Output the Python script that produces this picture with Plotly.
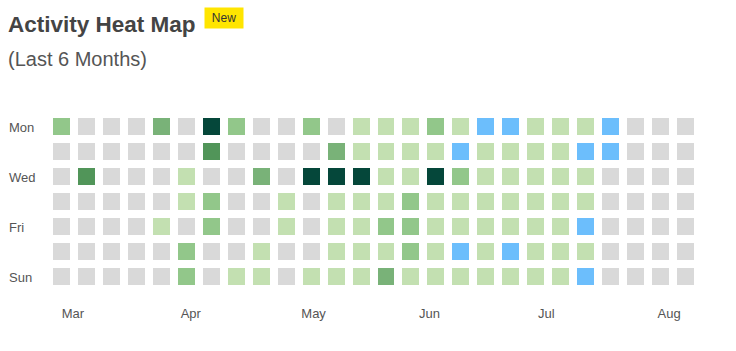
import plotly.graph_objects as go

days = ["Mon", "Tue", "Wed", "Thu", "Fri", "Sat", "Sun"]
day_labels = ["Mon", "", "Wed", "", "Fri", "", "Sun"]
weeks = list(range(26))
months = ["Mar", "Apr", "May", "Jun", "Jul", "Aug"]
month_pos = [0.46, 5.18, 10.1, 14.74, 19.42, 24.34]

# activity level per day (0 none .. 5 high, 6 = highlighted)
mon = [2,0,0,0,3,0,5,2,0,0,2,0,1,1,1,2,1,6,6,1,1,1,6,0,0,0]
tue = [0,0,0,0,0,0,4,0,0,0,0,3,1,1,1,1,6,1,1,1,1,6,6,0,0,0]
wed = [0,4,0,0,0,1,0,0,3,0,5,5,5,1,1,5,2,1,1,1,1,1,0,0,0,0]
thu = [0,0,0,0,0,1,2,0,0,1,0,1,1,1,2,1,1,1,1,1,1,1,0,0,0,0]
fri = [0,0,0,0,1,0,2,0,0,1,0,1,1,2,2,1,1,1,1,1,1,6,0,0,0,0]
sat = [0,0,0,0,0,2,0,0,1,0,0,1,1,1,2,1,6,1,6,1,1,1,0,0,0,0]
sun = [0,0,0,0,0,2,0,1,1,0,1,1,1,3,1,1,1,1,1,1,1,6,0,0,0,0]
levels = [mon, tue, wed, thu, fri, sat, sun]

level_colors = ["#D9D9D9", "#C3E0B1", "#92C78A", "#79B278", "#519559", "#05473A", "#6CBEFC"]

n = len(level_colors)
colorscale = []
for i, c in enumerate(level_colors):
    colorscale.append([i / n, c])
    colorscale.append([(i + 1) / n, c])

fig = go.Figure(go.Heatmap(
    z=levels, x=weeks, y=list(range(7)),
    colorscale=colorscale, zmin=-0.5, zmax=n - 0.5,
    xgap=8, ygap=8, showscale=False,
    hovertemplate="Week %{x}, %{customdata}: level %{z}<extra></extra>",
    customdata=[[d] * 26 for d in days],
))

W, H = 736, 351
L, R, T, B = 48.5, 37.5, 114, 62
pw = W - L - R

def px_to_paper_x(px):
    return (px - L) / pw

annotations = []
for i, lab in enumerate(day_labels):
    if lab:
        annotations.append(dict(
            text=lab, xref="paper", yref="y", x=px_to_paper_x(6), y=i,
            xanchor="left", yanchor="middle", showarrow=False, yshift=-1,
            font=dict(family="Liberation Sans, Arial", size=13, color="#555555"),
        ))

annotations.append(dict(
    text="<b>Activity Heat Map</b>", xref="paper", yref="paper",
    x=px_to_paper_x(5), y=1, yshift=T - 24, xanchor="left", yanchor="middle",
    showarrow=False, font=dict(family="Liberation Sans, Arial", size=22.5, color="#444444"),
))
annotations.append(dict(
    text="New", xref="paper", yref="paper",
    x=px_to_paper_x(204), y=1, yshift=T - 18, xanchor="left", yanchor="middle",
    showarrow=False, width=38, height=20, bgcolor="#FFE500", borderpad=0,
    font=dict(family="Liberation Sans, Arial", size=12, color="#333333"),
))
annotations.append(dict(
    text="(Last 6 Months)", xref="paper", yref="paper",
    x=px_to_paper_x(5), y=1, yshift=T - 59, xanchor="left", yanchor="middle",
    showarrow=False, font=dict(family="Liberation Sans, Arial", size=20, color="#555555"),
))

fig.update_layout(
    width=W, height=H,
    margin=dict(l=L, r=R, t=T, b=B, pad=0),
    paper_bgcolor="white", plot_bgcolor="white",
    xaxis=dict(range=[-0.5, 25.5], tickvals=month_pos, ticktext=months,
               showgrid=False, zeroline=False, showline=False,
               ticks="outside", ticklen=12, tickcolor="rgba(0,0,0,0)",
               tickfont=dict(family="Liberation Sans, Arial", size=13, color="#555555"),
               fixedrange=True),
    yaxis=dict(range=[6.5, -0.5], showticklabels=False, showgrid=False,
               zeroline=False, showline=False, fixedrange=True),
    annotations=annotations,
)

fig.write_html("out.html")
